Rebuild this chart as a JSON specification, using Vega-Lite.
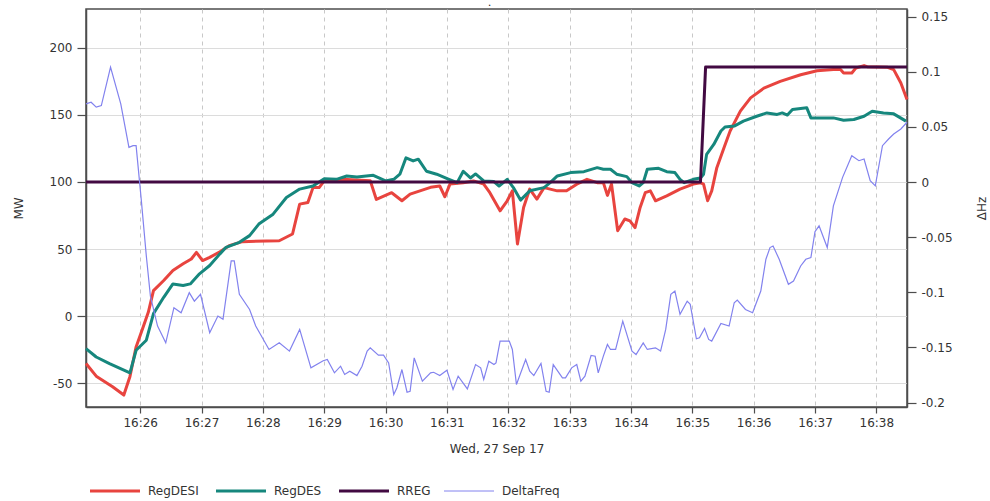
{
  "$schema": "https://vega.github.io/schema/vega-lite/v6.json",
  "width": 821,
  "height": 398,
  "autosize": {"type": "none"},
  "padding": {"left": 86, "top": 9, "right": 83, "bottom": 94},
  "background": "white",
  "title": {"text": ".", "fontSize": 7, "color": "#333", "offset": 2, "dx": -7},
  "config": {
    "font": "DejaVu Sans",
    "view": {"stroke": "#4d4d4d", "strokeWidth": 1.5},
    "axis": {
      "labelFont": "DejaVu Sans", "labelFontSize": 12, "labelColor": "#333",
      "titleFont": "DejaVu Sans", "titleFontSize": 12, "titleFontWeight": "normal", "titleColor": "#333",
      "domainColor": "#4d4d4d", "domainWidth": 1.5, "tickColor": "#4d4d4d", "tickWidth": 1.2
    },
    "legend": {"labelFont": "DejaVu Sans", "labelFontSize": 12, "labelColor": "#333"}
  },
  "data": {"values": [
    {"t":"2017-09-27T16:25:07","s":"RegDESI","v":-35.4},
    {"t":"2017-09-27T16:25:17","s":"RegDESI","v":-44.8},
    {"t":"2017-09-27T16:25:33","s":"RegDESI","v":-52.7},
    {"t":"2017-09-27T16:25:44","s":"RegDESI","v":-58.9},
    {"t":"2017-09-27T16:25:50","s":"RegDESI","v":-45},
    {"t":"2017-09-27T16:25:56","s":"RegDESI","v":-23},
    {"t":"2017-09-27T16:26:03","s":"RegDESI","v":-8},
    {"t":"2017-09-27T16:26:08","s":"RegDESI","v":3},
    {"t":"2017-09-27T16:26:13","s":"RegDESI","v":19},
    {"t":"2017-09-27T16:26:23","s":"RegDESI","v":26.5},
    {"t":"2017-09-27T16:26:32","s":"RegDESI","v":34},
    {"t":"2017-09-27T16:26:42","s":"RegDESI","v":39},
    {"t":"2017-09-27T16:26:50","s":"RegDESI","v":42.6},
    {"t":"2017-09-27T16:26:55","s":"RegDESI","v":47.5},
    {"t":"2017-09-27T16:27:01","s":"RegDESI","v":41.4},
    {"t":"2017-09-27T16:27:08","s":"RegDESI","v":43.8},
    {"t":"2017-09-27T16:27:18","s":"RegDESI","v":48},
    {"t":"2017-09-27T16:27:27","s":"RegDESI","v":52.5},
    {"t":"2017-09-27T16:27:40","s":"RegDESI","v":55.5},
    {"t":"2017-09-27T16:28:16","s":"RegDESI","v":56.2},
    {"t":"2017-09-27T16:28:29","s":"RegDESI","v":61.2},
    {"t":"2017-09-27T16:28:36","s":"RegDESI","v":83.5},
    {"t":"2017-09-27T16:28:44","s":"RegDESI","v":84.7},
    {"t":"2017-09-27T16:28:49","s":"RegDESI","v":95.8},
    {"t":"2017-09-27T16:28:55","s":"RegDESI","v":95.8},
    {"t":"2017-09-27T16:29:00","s":"RegDESI","v":100.8},
    {"t":"2017-09-27T16:29:06","s":"RegDESI","v":100.8},
    {"t":"2017-09-27T16:29:18","s":"RegDESI","v":102},
    {"t":"2017-09-27T16:29:45","s":"RegDESI","v":101},
    {"t":"2017-09-27T16:29:51","s":"RegDESI","v":87},
    {"t":"2017-09-27T16:30:06","s":"RegDESI","v":92},
    {"t":"2017-09-27T16:30:16","s":"RegDESI","v":86},
    {"t":"2017-09-27T16:30:24","s":"RegDESI","v":91},
    {"t":"2017-09-27T16:30:44","s":"RegDESI","v":96},
    {"t":"2017-09-27T16:30:53","s":"RegDESI","v":97},
    {"t":"2017-09-27T16:30:58","s":"RegDESI","v":89},
    {"t":"2017-09-27T16:31:03","s":"RegDESI","v":98.4},
    {"t":"2017-09-27T16:31:16","s":"RegDESI","v":99.5},
    {"t":"2017-09-27T16:31:26","s":"RegDESI","v":100.8},
    {"t":"2017-09-27T16:31:36","s":"RegDESI","v":98.4},
    {"t":"2017-09-27T16:31:42","s":"RegDESI","v":92},
    {"t":"2017-09-27T16:31:52","s":"RegDESI","v":78.5},
    {"t":"2017-09-27T16:31:59","s":"RegDESI","v":86},
    {"t":"2017-09-27T16:32:04","s":"RegDESI","v":93.4},
    {"t":"2017-09-27T16:32:09","s":"RegDESI","v":53.8},
    {"t":"2017-09-27T16:32:15","s":"RegDESI","v":81},
    {"t":"2017-09-27T16:32:21","s":"RegDESI","v":94.7},
    {"t":"2017-09-27T16:32:28","s":"RegDESI","v":87.2},
    {"t":"2017-09-27T16:32:35","s":"RegDESI","v":95.8},
    {"t":"2017-09-27T16:32:48","s":"RegDESI","v":93.4},
    {"t":"2017-09-27T16:32:57","s":"RegDESI","v":93.4},
    {"t":"2017-09-27T16:33:07","s":"RegDESI","v":98.4},
    {"t":"2017-09-27T16:33:17","s":"RegDESI","v":102},
    {"t":"2017-09-27T16:33:27","s":"RegDESI","v":99.5},
    {"t":"2017-09-27T16:33:33","s":"RegDESI","v":99.5},
    {"t":"2017-09-27T16:33:37","s":"RegDESI","v":90},
    {"t":"2017-09-27T16:33:41","s":"RegDESI","v":98.4},
    {"t":"2017-09-27T16:33:47","s":"RegDESI","v":63.7},
    {"t":"2017-09-27T16:33:54","s":"RegDESI","v":72.4},
    {"t":"2017-09-27T16:33:59","s":"RegDESI","v":71},
    {"t":"2017-09-27T16:34:04","s":"RegDESI","v":66},
    {"t":"2017-09-27T16:34:09","s":"RegDESI","v":81},
    {"t":"2017-09-27T16:34:14","s":"RegDESI","v":92},
    {"t":"2017-09-27T16:34:19","s":"RegDESI","v":93.4},
    {"t":"2017-09-27T16:34:24","s":"RegDESI","v":86},
    {"t":"2017-09-27T16:34:35","s":"RegDESI","v":89.7},
    {"t":"2017-09-27T16:34:48","s":"RegDESI","v":94.7},
    {"t":"2017-09-27T16:35:01","s":"RegDESI","v":98.4},
    {"t":"2017-09-27T16:35:08","s":"RegDESI","v":99.5},
    {"t":"2017-09-27T16:35:11","s":"RegDESI","v":98.4},
    {"t":"2017-09-27T16:35:15","s":"RegDESI","v":86},
    {"t":"2017-09-27T16:35:19","s":"RegDESI","v":93.4},
    {"t":"2017-09-27T16:35:24","s":"RegDESI","v":110.7},
    {"t":"2017-09-27T16:35:31","s":"RegDESI","v":125.5},
    {"t":"2017-09-27T16:35:37","s":"RegDESI","v":138},
    {"t":"2017-09-27T16:35:47","s":"RegDESI","v":152.8},
    {"t":"2017-09-27T16:35:57","s":"RegDESI","v":162.7},
    {"t":"2017-09-27T16:36:10","s":"RegDESI","v":170},
    {"t":"2017-09-27T16:36:26","s":"RegDESI","v":175},
    {"t":"2017-09-27T16:36:46","s":"RegDESI","v":180},
    {"t":"2017-09-27T16:37:02","s":"RegDESI","v":183},
    {"t":"2017-09-27T16:37:18","s":"RegDESI","v":183.8},
    {"t":"2017-09-27T16:37:25","s":"RegDESI","v":183.8},
    {"t":"2017-09-27T16:37:28","s":"RegDESI","v":181.3},
    {"t":"2017-09-27T16:37:36","s":"RegDESI","v":181.3},
    {"t":"2017-09-27T16:37:40","s":"RegDESI","v":185},
    {"t":"2017-09-27T16:37:48","s":"RegDESI","v":186.8},
    {"t":"2017-09-27T16:37:51","s":"RegDESI","v":186},
    {"t":"2017-09-27T16:38:11","s":"RegDESI","v":185.5},
    {"t":"2017-09-27T16:38:17","s":"RegDESI","v":183.8},
    {"t":"2017-09-27T16:38:24","s":"RegDESI","v":173.8},
    {"t":"2017-09-27T16:38:30","s":"RegDESI","v":161.5},
    {"t":"2017-09-27T16:25:07","s":"RegDES","v":-24.2},
    {"t":"2017-09-27T16:25:17","s":"RegDES","v":-30.5},
    {"t":"2017-09-27T16:25:30","s":"RegDES","v":-35.4},
    {"t":"2017-09-27T16:25:50","s":"RegDES","v":-42.3},
    {"t":"2017-09-27T16:25:56","s":"RegDES","v":-25.5},
    {"t":"2017-09-27T16:26:06","s":"RegDES","v":-18},
    {"t":"2017-09-27T16:26:13","s":"RegDES","v":1.8},
    {"t":"2017-09-27T16:26:23","s":"RegDES","v":14},
    {"t":"2017-09-27T16:26:32","s":"RegDES","v":24},
    {"t":"2017-09-27T16:26:42","s":"RegDES","v":22.8},
    {"t":"2017-09-27T16:26:49","s":"RegDES","v":24},
    {"t":"2017-09-27T16:26:58","s":"RegDES","v":31.5},
    {"t":"2017-09-27T16:27:08","s":"RegDES","v":37.7},
    {"t":"2017-09-27T16:27:18","s":"RegDES","v":46.4},
    {"t":"2017-09-27T16:27:24","s":"RegDES","v":51.3},
    {"t":"2017-09-27T16:27:37","s":"RegDES","v":55},
    {"t":"2017-09-27T16:27:47","s":"RegDES","v":60},
    {"t":"2017-09-27T16:27:56","s":"RegDES","v":68.6},
    {"t":"2017-09-27T16:28:10","s":"RegDES","v":76},
    {"t":"2017-09-27T16:28:23","s":"RegDES","v":88.4},
    {"t":"2017-09-27T16:28:36","s":"RegDES","v":94.7},
    {"t":"2017-09-27T16:28:49","s":"RegDES","v":97},
    {"t":"2017-09-27T16:29:00","s":"RegDES","v":102.5},
    {"t":"2017-09-27T16:29:12","s":"RegDES","v":102},
    {"t":"2017-09-27T16:29:22","s":"RegDES","v":104.5},
    {"t":"2017-09-27T16:29:32","s":"RegDES","v":103.8},
    {"t":"2017-09-27T16:29:48","s":"RegDES","v":105},
    {"t":"2017-09-27T16:30:00","s":"RegDES","v":100.8},
    {"t":"2017-09-27T16:30:08","s":"RegDES","v":102},
    {"t":"2017-09-27T16:30:14","s":"RegDES","v":105.8},
    {"t":"2017-09-27T16:30:20","s":"RegDES","v":118},
    {"t":"2017-09-27T16:30:27","s":"RegDES","v":115.7},
    {"t":"2017-09-27T16:30:32","s":"RegDES","v":117},
    {"t":"2017-09-27T16:30:40","s":"RegDES","v":108},
    {"t":"2017-09-27T16:30:50","s":"RegDES","v":105.8},
    {"t":"2017-09-27T16:31:02","s":"RegDES","v":102},
    {"t":"2017-09-27T16:31:10","s":"RegDES","v":99.5},
    {"t":"2017-09-27T16:31:16","s":"RegDES","v":108},
    {"t":"2017-09-27T16:31:23","s":"RegDES","v":103},
    {"t":"2017-09-27T16:31:28","s":"RegDES","v":106},
    {"t":"2017-09-27T16:31:36","s":"RegDES","v":100.8},
    {"t":"2017-09-27T16:31:46","s":"RegDES","v":100.3},
    {"t":"2017-09-27T16:31:51","s":"RegDES","v":97},
    {"t":"2017-09-27T16:31:59","s":"RegDES","v":102},
    {"t":"2017-09-27T16:32:05","s":"RegDES","v":95.8},
    {"t":"2017-09-27T16:32:12","s":"RegDES","v":86.5},
    {"t":"2017-09-27T16:32:21","s":"RegDES","v":93.4},
    {"t":"2017-09-27T16:32:35","s":"RegDES","v":95.8},
    {"t":"2017-09-27T16:32:41","s":"RegDES","v":99.5},
    {"t":"2017-09-27T16:32:48","s":"RegDES","v":104.5},
    {"t":"2017-09-27T16:33:01","s":"RegDES","v":107},
    {"t":"2017-09-27T16:33:14","s":"RegDES","v":107.7},
    {"t":"2017-09-27T16:33:27","s":"RegDES","v":110.7},
    {"t":"2017-09-27T16:33:33","s":"RegDES","v":109.5},
    {"t":"2017-09-27T16:33:40","s":"RegDES","v":109.5},
    {"t":"2017-09-27T16:33:46","s":"RegDES","v":105.8},
    {"t":"2017-09-27T16:33:56","s":"RegDES","v":104},
    {"t":"2017-09-27T16:34:01","s":"RegDES","v":99.5},
    {"t":"2017-09-27T16:34:08","s":"RegDES","v":97},
    {"t":"2017-09-27T16:34:12","s":"RegDES","v":99.5},
    {"t":"2017-09-27T16:34:16","s":"RegDES","v":109.5},
    {"t":"2017-09-27T16:34:27","s":"RegDES","v":110.2},
    {"t":"2017-09-27T16:34:35","s":"RegDES","v":107.7},
    {"t":"2017-09-27T16:34:43","s":"RegDES","v":107},
    {"t":"2017-09-27T16:34:48","s":"RegDES","v":102},
    {"t":"2017-09-27T16:34:52","s":"RegDES","v":99.5},
    {"t":"2017-09-27T16:35:01","s":"RegDES","v":102},
    {"t":"2017-09-27T16:35:08","s":"RegDES","v":103},
    {"t":"2017-09-27T16:35:11","s":"RegDES","v":105.8},
    {"t":"2017-09-27T16:35:14","s":"RegDES","v":120.6},
    {"t":"2017-09-27T16:35:21","s":"RegDES","v":128},
    {"t":"2017-09-27T16:35:28","s":"RegDES","v":138},
    {"t":"2017-09-27T16:35:32","s":"RegDES","v":141},
    {"t":"2017-09-27T16:35:41","s":"RegDES","v":141.7},
    {"t":"2017-09-27T16:35:50","s":"RegDES","v":145.4},
    {"t":"2017-09-27T16:36:03","s":"RegDES","v":149},
    {"t":"2017-09-27T16:36:13","s":"RegDES","v":151.5},
    {"t":"2017-09-27T16:36:23","s":"RegDES","v":150.4},
    {"t":"2017-09-27T16:36:28","s":"RegDES","v":151.5},
    {"t":"2017-09-27T16:36:33","s":"RegDES","v":149.9},
    {"t":"2017-09-27T16:36:38","s":"RegDES","v":154},
    {"t":"2017-09-27T16:36:46","s":"RegDES","v":154.8},
    {"t":"2017-09-27T16:36:52","s":"RegDES","v":155.3},
    {"t":"2017-09-27T16:36:56","s":"RegDES","v":147.8},
    {"t":"2017-09-27T16:37:06","s":"RegDES","v":147.8},
    {"t":"2017-09-27T16:37:18","s":"RegDES","v":147.8},
    {"t":"2017-09-27T16:37:28","s":"RegDES","v":146.1},
    {"t":"2017-09-27T16:37:38","s":"RegDES","v":146.6},
    {"t":"2017-09-27T16:37:48","s":"RegDES","v":149},
    {"t":"2017-09-27T16:37:56","s":"RegDES","v":152.8},
    {"t":"2017-09-27T16:38:07","s":"RegDES","v":151.5},
    {"t":"2017-09-27T16:38:17","s":"RegDES","v":150.8},
    {"t":"2017-09-27T16:38:29","s":"RegDES","v":145.4},
    {"t":"2017-09-27T16:25:07","s":"RREG","v":100},
    {"t":"2017-09-27T16:35:08","s":"RREG","v":100},
    {"t":"2017-09-27T16:35:13","s":"RREG","v":185.7},
    {"t":"2017-09-27T16:38:30","s":"RREG","v":185.7},
    {"t":"2017-09-27T16:25:07","s":"DeltaFreq","v":0.0709},
    {"t":"2017-09-27T16:25:12","s":"DeltaFreq","v":0.0724},
    {"t":"2017-09-27T16:25:17","s":"DeltaFreq","v":0.068},
    {"t":"2017-09-27T16:25:22","s":"DeltaFreq","v":0.0694},
    {"t":"2017-09-27T16:25:31","s":"DeltaFreq","v":0.1043},
    {"t":"2017-09-27T16:25:41","s":"DeltaFreq","v":0.0709},
    {"t":"2017-09-27T16:25:49","s":"DeltaFreq","v":0.0315},
    {"t":"2017-09-27T16:25:53","s":"DeltaFreq","v":0.033},
    {"t":"2017-09-27T16:25:56","s":"DeltaFreq","v":0.033},
    {"t":"2017-09-27T16:26:01","s":"DeltaFreq","v":-0.0155},
    {"t":"2017-09-27T16:26:06","s":"DeltaFreq","v":-0.067},
    {"t":"2017-09-27T16:26:10","s":"DeltaFreq","v":-0.1034},
    {"t":"2017-09-27T16:26:17","s":"DeltaFreq","v":-0.1306},
    {"t":"2017-09-27T16:26:25","s":"DeltaFreq","v":-0.1458},
    {"t":"2017-09-27T16:26:33","s":"DeltaFreq","v":-0.1139},
    {"t":"2017-09-27T16:26:40","s":"DeltaFreq","v":-0.1185},
    {"t":"2017-09-27T16:26:48","s":"DeltaFreq","v":-0.1003},
    {"t":"2017-09-27T16:26:53","s":"DeltaFreq","v":-0.108},
    {"t":"2017-09-27T16:26:59","s":"DeltaFreq","v":-0.1018},
    {"t":"2017-09-27T16:27:08","s":"DeltaFreq","v":-0.1366},
    {"t":"2017-09-27T16:27:16","s":"DeltaFreq","v":-0.1215},
    {"t":"2017-09-27T16:27:21","s":"DeltaFreq","v":-0.1245},
    {"t":"2017-09-27T16:27:29","s":"DeltaFreq","v":-0.0715},
    {"t":"2017-09-27T16:27:32","s":"DeltaFreq","v":-0.0715},
    {"t":"2017-09-27T16:27:37","s":"DeltaFreq","v":-0.1018},
    {"t":"2017-09-27T16:27:47","s":"DeltaFreq","v":-0.1155},
    {"t":"2017-09-27T16:27:53","s":"DeltaFreq","v":-0.1306},
    {"t":"2017-09-27T16:28:06","s":"DeltaFreq","v":-0.1518},
    {"t":"2017-09-27T16:28:16","s":"DeltaFreq","v":-0.1458},
    {"t":"2017-09-27T16:28:26","s":"DeltaFreq","v":-0.1533},
    {"t":"2017-09-27T16:28:36","s":"DeltaFreq","v":-0.1336},
    {"t":"2017-09-27T16:28:47","s":"DeltaFreq","v":-0.1685},
    {"t":"2017-09-27T16:28:59","s":"DeltaFreq","v":-0.162},
    {"t":"2017-09-27T16:29:03","s":"DeltaFreq","v":-0.1609},
    {"t":"2017-09-27T16:29:10","s":"DeltaFreq","v":-0.173},
    {"t":"2017-09-27T16:29:16","s":"DeltaFreq","v":-0.167},
    {"t":"2017-09-27T16:29:20","s":"DeltaFreq","v":-0.1745},
    {"t":"2017-09-27T16:29:25","s":"DeltaFreq","v":-0.1715},
    {"t":"2017-09-27T16:29:32","s":"DeltaFreq","v":-0.1755},
    {"t":"2017-09-27T16:29:37","s":"DeltaFreq","v":-0.167},
    {"t":"2017-09-27T16:29:42","s":"DeltaFreq","v":-0.1533},
    {"t":"2017-09-27T16:29:45","s":"DeltaFreq","v":-0.1503},
    {"t":"2017-09-27T16:29:53","s":"DeltaFreq","v":-0.157},
    {"t":"2017-09-27T16:29:58","s":"DeltaFreq","v":-0.157},
    {"t":"2017-09-27T16:30:03","s":"DeltaFreq","v":-0.164},
    {"t":"2017-09-27T16:30:08","s":"DeltaFreq","v":-0.1927},
    {"t":"2017-09-27T16:30:11","s":"DeltaFreq","v":-0.1867},
    {"t":"2017-09-27T16:30:16","s":"DeltaFreq","v":-0.17},
    {"t":"2017-09-27T16:30:21","s":"DeltaFreq","v":-0.1906},
    {"t":"2017-09-27T16:30:24","s":"DeltaFreq","v":-0.1897},
    {"t":"2017-09-27T16:30:28","s":"DeltaFreq","v":-0.1594},
    {"t":"2017-09-27T16:30:36","s":"DeltaFreq","v":-0.1806},
    {"t":"2017-09-27T16:30:44","s":"DeltaFreq","v":-0.173},
    {"t":"2017-09-27T16:30:47","s":"DeltaFreq","v":-0.1725},
    {"t":"2017-09-27T16:30:53","s":"DeltaFreq","v":-0.1755},
    {"t":"2017-09-27T16:31:00","s":"DeltaFreq","v":-0.1706},
    {"t":"2017-09-27T16:31:06","s":"DeltaFreq","v":-0.188},
    {"t":"2017-09-27T16:31:11","s":"DeltaFreq","v":-0.176},
    {"t":"2017-09-27T16:31:20","s":"DeltaFreq","v":-0.1876},
    {"t":"2017-09-27T16:31:28","s":"DeltaFreq","v":-0.1655},
    {"t":"2017-09-27T16:31:33","s":"DeltaFreq","v":-0.1685},
    {"t":"2017-09-27T16:31:36","s":"DeltaFreq","v":-0.179},
    {"t":"2017-09-27T16:31:41","s":"DeltaFreq","v":-0.1624},
    {"t":"2017-09-27T16:31:46","s":"DeltaFreq","v":-0.1655},
    {"t":"2017-09-27T16:31:48","s":"DeltaFreq","v":-0.164},
    {"t":"2017-09-27T16:31:52","s":"DeltaFreq","v":-0.1442},
    {"t":"2017-09-27T16:32:01","s":"DeltaFreq","v":-0.1442},
    {"t":"2017-09-27T16:32:04","s":"DeltaFreq","v":-0.1518},
    {"t":"2017-09-27T16:32:08","s":"DeltaFreq","v":-0.1836},
    {"t":"2017-09-27T16:32:17","s":"DeltaFreq","v":-0.1609},
    {"t":"2017-09-27T16:32:21","s":"DeltaFreq","v":-0.1715},
    {"t":"2017-09-27T16:32:25","s":"DeltaFreq","v":-0.1755},
    {"t":"2017-09-27T16:32:32","s":"DeltaFreq","v":-0.1645},
    {"t":"2017-09-27T16:32:37","s":"DeltaFreq","v":-0.1897},
    {"t":"2017-09-27T16:32:40","s":"DeltaFreq","v":-0.1906},
    {"t":"2017-09-27T16:32:44","s":"DeltaFreq","v":-0.1655},
    {"t":"2017-09-27T16:32:53","s":"DeltaFreq","v":-0.1776},
    {"t":"2017-09-27T16:32:56","s":"DeltaFreq","v":-0.1776},
    {"t":"2017-09-27T16:33:02","s":"DeltaFreq","v":-0.1685},
    {"t":"2017-09-27T16:33:07","s":"DeltaFreq","v":-0.1655},
    {"t":"2017-09-27T16:33:11","s":"DeltaFreq","v":-0.1806},
    {"t":"2017-09-27T16:33:15","s":"DeltaFreq","v":-0.176},
    {"t":"2017-09-27T16:33:21","s":"DeltaFreq","v":-0.1573},
    {"t":"2017-09-27T16:33:25","s":"DeltaFreq","v":-0.158},
    {"t":"2017-09-27T16:33:28","s":"DeltaFreq","v":-0.173},
    {"t":"2017-09-27T16:33:33","s":"DeltaFreq","v":-0.1579},
    {"t":"2017-09-27T16:33:37","s":"DeltaFreq","v":-0.1473},
    {"t":"2017-09-27T16:33:40","s":"DeltaFreq","v":-0.1518},
    {"t":"2017-09-27T16:33:45","s":"DeltaFreq","v":-0.1518},
    {"t":"2017-09-27T16:33:52","s":"DeltaFreq","v":-0.1261},
    {"t":"2017-09-27T16:34:01","s":"DeltaFreq","v":-0.1533},
    {"t":"2017-09-27T16:34:05","s":"DeltaFreq","v":-0.1564},
    {"t":"2017-09-27T16:34:12","s":"DeltaFreq","v":-0.1458},
    {"t":"2017-09-27T16:34:16","s":"DeltaFreq","v":-0.1518},
    {"t":"2017-09-27T16:34:24","s":"DeltaFreq","v":-0.1503},
    {"t":"2017-09-27T16:34:29","s":"DeltaFreq","v":-0.1533},
    {"t":"2017-09-27T16:34:34","s":"DeltaFreq","v":-0.1336},
    {"t":"2017-09-27T16:34:39","s":"DeltaFreq","v":-0.1018},
    {"t":"2017-09-27T16:34:43","s":"DeltaFreq","v":-0.0988},
    {"t":"2017-09-27T16:34:48","s":"DeltaFreq","v":-0.12},
    {"t":"2017-09-27T16:34:55","s":"DeltaFreq","v":-0.108},
    {"t":"2017-09-27T16:34:58","s":"DeltaFreq","v":-0.1109},
    {"t":"2017-09-27T16:35:04","s":"DeltaFreq","v":-0.1421},
    {"t":"2017-09-27T16:35:07","s":"DeltaFreq","v":-0.1412},
    {"t":"2017-09-27T16:35:12","s":"DeltaFreq","v":-0.1327},
    {"t":"2017-09-27T16:35:16","s":"DeltaFreq","v":-0.1427},
    {"t":"2017-09-27T16:35:19","s":"DeltaFreq","v":-0.1442},
    {"t":"2017-09-27T16:35:28","s":"DeltaFreq","v":-0.1282},
    {"t":"2017-09-27T16:35:36","s":"DeltaFreq","v":-0.1306},
    {"t":"2017-09-27T16:35:41","s":"DeltaFreq","v":-0.1094},
    {"t":"2017-09-27T16:35:44","s":"DeltaFreq","v":-0.107},
    {"t":"2017-09-27T16:35:52","s":"DeltaFreq","v":-0.1155},
    {"t":"2017-09-27T16:35:59","s":"DeltaFreq","v":-0.1185},
    {"t":"2017-09-27T16:36:07","s":"DeltaFreq","v":-0.0988},
    {"t":"2017-09-27T16:36:12","s":"DeltaFreq","v":-0.07},
    {"t":"2017-09-27T16:36:16","s":"DeltaFreq","v":-0.0594},
    {"t":"2017-09-27T16:36:19","s":"DeltaFreq","v":-0.058},
    {"t":"2017-09-27T16:36:25","s":"DeltaFreq","v":-0.07},
    {"t":"2017-09-27T16:36:34","s":"DeltaFreq","v":-0.0927},
    {"t":"2017-09-27T16:36:39","s":"DeltaFreq","v":-0.0897},
    {"t":"2017-09-27T16:36:46","s":"DeltaFreq","v":-0.0761},
    {"t":"2017-09-27T16:36:51","s":"DeltaFreq","v":-0.07},
    {"t":"2017-09-27T16:36:56","s":"DeltaFreq","v":-0.0685},
    {"t":"2017-09-27T16:37:00","s":"DeltaFreq","v":-0.045},
    {"t":"2017-09-27T16:37:04","s":"DeltaFreq","v":-0.0397},
    {"t":"2017-09-27T16:37:12","s":"DeltaFreq","v":-0.0594},
    {"t":"2017-09-27T16:37:18","s":"DeltaFreq","v":-0.0215},
    {"t":"2017-09-27T16:37:27","s":"DeltaFreq","v":0.0043},
    {"t":"2017-09-27T16:37:36","s":"DeltaFreq","v":0.0239},
    {"t":"2017-09-27T16:37:43","s":"DeltaFreq","v":0.0194},
    {"t":"2017-09-27T16:37:48","s":"DeltaFreq","v":0.0209},
    {"t":"2017-09-27T16:37:54","s":"DeltaFreq","v":0.0012},
    {"t":"2017-09-27T16:37:59","s":"DeltaFreq","v":-0.0034},
    {"t":"2017-09-27T16:38:06","s":"DeltaFreq","v":0.033},
    {"t":"2017-09-27T16:38:12","s":"DeltaFreq","v":0.0391},
    {"t":"2017-09-27T16:38:17","s":"DeltaFreq","v":0.0436},
    {"t":"2017-09-27T16:38:24","s":"DeltaFreq","v":0.0482},
    {"t":"2017-09-27T16:38:30","s":"DeltaFreq","v":0.0543}
  ]},
  "encoding": {
    "x": {
      "field": "t", "type": "temporal",
      "axis": {
        "title": "Wed, 27 Sep 17", "format": "%H:%M", "tickCount": 14,
        "grid": true, "gridDash": [4, 4], "gridColor": "#c8c8c8",
        "tickSize": 6, "labelPadding": 4, "titlePadding": 15
      }
    },
    "color": {
      "field": "s", "type": "nominal",
      "scale": {"domain": ["RegDESI", "RegDES", "RREG", "DeltaFreq"], "range": ["#e8443f", "#16877d", "#420a42", "#8282ee"]},
      "legend": {
        "title": null, "orient": "none", "legendX": 23, "legendY": 476, "direction": "horizontal",
        "symbolType": "stroke", "symbolSize": 2500, "labelOffset": 27, "columnPadding": 11,
        "labelFontSize": 12,
        "encode": {"symbols": {"update": {"strokeWidth": {"signal": "datum.value === 'DeltaFreq' ? 1 : 3"}}}}
      }
    }
  },
  "layer": [
    {
      "transform": [{"filter": "datum.s !== 'DeltaFreq'"}],
      "mark": {"type": "line", "strokeWidth": 3, "strokeJoin": "round"},
      "encoding": {
        "y": {
          "field": "v", "type": "quantitative",
          "scale": {"domain": [-67.8, 229], "nice": false, "zero": false},
          "axis": {
            "title": "MW", "values": [-50, 0, 50, 100, 150, 200], "labelExpr": "'' + datum.value",
            "grid": true, "gridColor": "#dcdcdc", "tickSize": 9, "labelPadding": 5, "titlePadding": 24
          }
        }
      }
    },
    {
      "transform": [{"filter": "datum.s === 'DeltaFreq'"}],
      "mark": {"type": "line", "strokeWidth": 1.2},
      "encoding": {
        "y": {
          "field": "v", "type": "quantitative",
          "scale": {"domain": [-0.204, 0.157], "nice": false, "zero": false},
          "axis": {
            "title": "ΔHz", "orient": "right", "values": [-0.2, -0.15, -0.1, -0.05, 0, 0.05, 0.1, 0.15],
            "labelExpr": "'' + datum.value", "grid": false, "tickSize": 9, "labelPadding": 5,
            "titlePadding": 36, "titleAngle": 270
          }
        }
      }
    }
  ],
  "resolve": {"scale": {"y": "independent"}}
}
